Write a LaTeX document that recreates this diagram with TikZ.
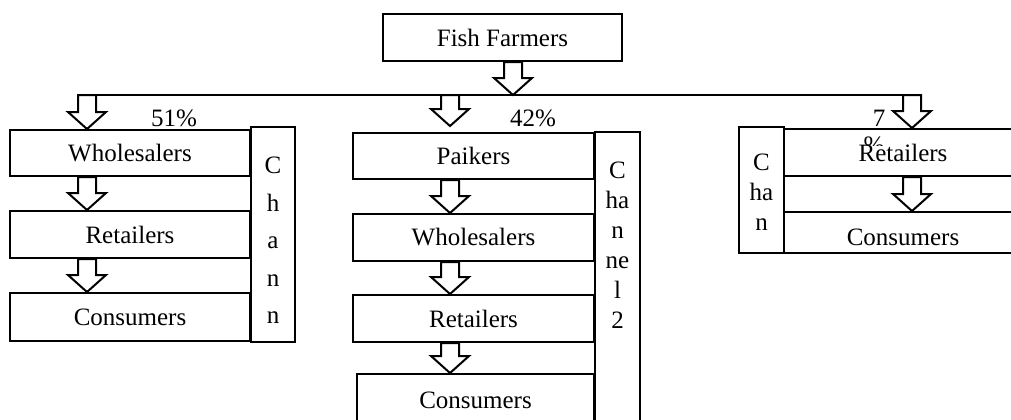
\documentclass[tikz,border=0pt]{standalone}
\usepackage{fontspec}
\setmainfont{Liberation Serif}
\usepackage{tikz}
\usetikzlibrary{calc}

% block arrow pointing down, from #1 (top of shaft) to #2 (tip)
\newcommand{\blockdown}[2]{%
  \draw[line width=1pt, fill=white] let \p1=#1, \p2=#2 in
    (\x1-4.5pt,\y1) -- (\x1-4.5pt,\y2+8.5pt) -- (\x1-9.5pt,\y2+8.5pt) -- (\x1,\y2)
    -- (\x1+9.5pt,\y2+8.5pt) -- (\x1+4.5pt,\y2+8.5pt) -- (\x1+4.5pt,\y1) -- cycle;}

\begin{document}
\begin{tikzpicture}[x=0.5pt, y=-0.5pt]
  \tikzstyle{box}=[draw, line width=1pt, inner sep=0pt, fill=white, font=\fontsize{12.5}{15}\selectfont]
  \tikzstyle{lbl}=[inner sep=0pt, font=\fontsize{12.5}{15}\selectfont]
  \tikzstyle{chantext}=[inner sep=0pt, align=center, anchor=north]

  \useasboundingbox (0,0) rectangle (1011,419);

	\node[box, minimum width=119.5pt, minimum height=23.5pt] (FF) at (502.5,37.5) {Fish Farmers};

	% channel 1
	\node[box, minimum width=120pt, minimum height=23pt]   (W1) at (130,153)   {Wholesalers};
	\node[box, minimum width=120pt, minimum height=23.5pt] (R1) at (130,234.5) {Retailers};
	\node[box, minimum width=120pt, minimum height=24pt]   (C1) at (130,317)   {Consumers};
	\node[box, minimum width=22pt, minimum height=107.5pt] (ch1) at (273,234.5) {};
	\node[chantext, font=\fontsize{12.5}{18.75}\selectfont] (ch1t) at ($(ch1.north)+(0,-15.5pt)$) {C\\h\\a\\n\\n};

	% channel 2
	\node[box, minimum width=120.5pt, minimum height=23pt]   (P2) at (473.5,156)   {Paikers};
	\node[box, minimum width=120.5pt, minimum height=23.5pt] (W2) at (473.5,237.5) {Wholesalers};
	\node[box, minimum width=120.5pt, minimum height=23.5pt] (R2) at (473.5,318.5) {Retailers};
	\node[box, minimum width=118.5pt, minimum height=26pt]   (C2) at (475.5,400)   {Consumers};
	\node[box, minimum width=22.5pt, minimum height=149pt]   (ch2) at (617.5,281)  {};
	\node[chantext, font=\fontsize{12.5}{15}\selectfont] (ch2t) at ($(ch2.north)+(0,-15.5pt)$) {C\\ha\\n\\ne\\l\\2};

	% channel 3
	\node[box, minimum width=22.5pt, minimum height=63pt]  (ch3) at (761.5,190)  {};
	\node[chantext, font=\fontsize{12.5}{15}\selectfont] (ch3t) at ($(ch3.north)+(0,-13.75pt)$) {C\\ha\\n};
	\node[box, minimum width=119pt, minimum height=23.5pt] (R3) at (903,152.5)  {Retailers};
	\node[box, minimum width=119pt, minimum height=20.5pt, text height=12.5pt, text depth=0pt] (C3) at (903,232.5) {Consumers};

	% shares
	\node[lbl] (p1) at (174,118) {51\%};
	\node[lbl] (p2) at (533,118) {42\%};
	\node[lbl] (p3) at (879,118) {7};
	\begin{scope}
		\clip (860,130) rectangle (895,145);
		\node[lbl] (p3b) at (874,145) {\%};
	\end{scope}

	% arrows
	\coordinate (bus) at (0,95);
	\coordinate (c0) at (513,0);
	\coordinate (c1) at (87,0);
	\coordinate (c2) at (450,0);
	\coordinate (c3) at (912,0);

	\draw[line width=1pt] ($(bus -| c1)+(-4.5pt,0)$) -- ($(bus -| c3)+(4.5pt,0)$);
	\blockdown{(FF.south -| c0)}{(bus -| c0)}
	\blockdown{(bus -| c1)}{(W1.north -| c1)}
	\blockdown{(bus -| c2)}{($(P2.north -| c2)+(0,3pt)$)}
	\blockdown{(bus -| c3)}{(R3.north -| c3)}

	\blockdown{(W1.south -| c1)}{(R1.north -| c1)}
	\blockdown{(R1.south -| c1)}{(C1.north -| c1)}
	\blockdown{(P2.south -| c2)}{(W2.north -| c2)}
	\blockdown{(W2.south -| c2)}{(R2.north -| c2)}
	\blockdown{(R2.south -| c2)}{(C2.north -| c2)}
	\blockdown{(R3.south -| c3)}{(C3.north -| c3)}

\end{tikzpicture}
\end{document}
